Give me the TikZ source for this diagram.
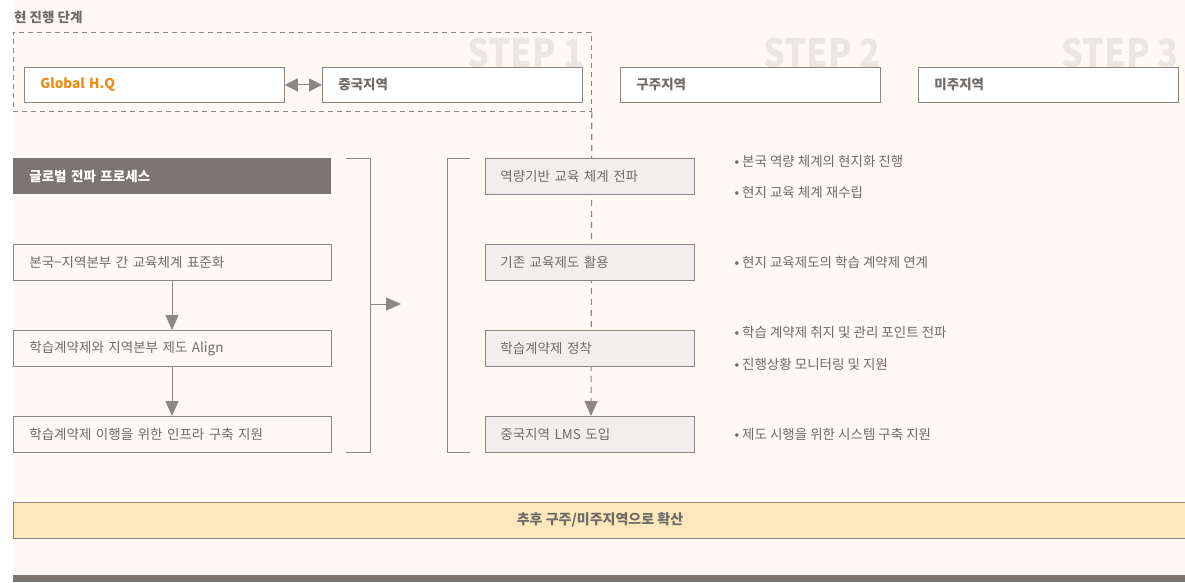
\documentclass[tikz,border=0pt]{standalone}
\usepackage{fontspec}
\setmainfont{Noto Sans CJK KR}
\usetikzlibrary{arrows.meta}
\definecolor{bgcream}{HTML}{FEF9F2}
\definecolor{linegray}{HTML}{8C8783}
\definecolor{txtgray}{HTML}{6F6B68}
\definecolor{darkbar}{HTML}{7B7571}
\definecolor{midfill}{HTML}{F1EFED}
\definecolor{bandfill}{HTML}{FDE8BC}
\definecolor{stepgray}{HTML}{EAE6E2}
\definecolor{hqorange}{HTML}{EE8A10}
\begin{document}
\begin{tikzpicture}[x=1pt,y=-1pt,
    region/.style={draw=linegray, fill=white, line width=0.8pt, minimum height=35pt,
        text width=228pt, inner xsep=16pt, align=left, anchor=north west,
        font=\fontsize{13.5}{15}\selectfont\bfseries, text=txtgray},
    procbox/.style={draw=linegray, fill=bgcream, line width=0.8pt, minimum height=36pt,
        text width=286pt, inner xsep=16pt, align=left, anchor=north west,
        font=\fontsize{13.5}{15}\selectfont, text=txtgray},
    stagebox/.style={procbox, fill=midfill, text width=179pt, inner xsep=15pt},
    bullet/.style={anchor=west, text=txtgray, font=\fontsize{13.5}{15}\selectfont},
    steplabel/.style={anchor=base east, text=stepgray, inner sep=0pt,
        font=\fontsize{39}{40}\selectfont\bfseries},
    flow/.style={draw=linegray, line width=1pt, -{Triangle[length=15pt,width=13pt]}}]
    % 배경
    \useasboundingbox (0,0) rectangle (1185,582);
    \fill[white] (0,0) rectangle (1185,582);
    \fill[bgcream] (13,0) rectangle (1185,582);

    % 현 진행 단계
    \node[anchor=west, text=txtgray, font=\fontsize{13.5}{15}\selectfont\bfseries, inner sep=0pt]
        (title) at (14,17) {현 진행 단계};
    \node[steplabel] (step1) at (585,67) {\scalebox{0.88}[1]{STEP 1}};
    \node[steplabel] (step2) at (881,67) {\scalebox{0.88}[1]{STEP 2}};
    \node[steplabel] (step3) at (1179,67) {\scalebox{0.88}[1]{STEP 3}};
    \node[draw=linegray, dash pattern=on 5pt off 4pt, line width=0.8pt, anchor=north west, inner sep=0pt,
        minimum width=578pt, minimum height=79pt] (cur) at (13,32) {};

    % 지역 박스
    \node[region, text=hqorange] (hq) at (24,67) {Global H.Q};
    \node[region] (china) at (322,67) {중국지역};
    \node[region] (europe) at (620,67) {구주지역};
    \node[region] (america) at (918,67) {미주지역};
    \draw[draw=linegray, line width=1pt, {Triangle[length=13pt,width=13pt]}-{Triangle[length=13pt,width=13pt]}]
        (hq.east) -- (china.west);

    % 글로벌 전파 프로세스
    \node[procbox, draw=none, fill=darkbar, text=white, font=\fontsize{13.5}{15}\selectfont\bfseries]
        (proc) at (13,158) {글로벌 전파 프로세스};
    \node[procbox] (std) at (13,244) {본국−지역본부 간 교육체계 표준화};
    \node[procbox] (align) at (13,330) {학습계약제와 지역본부 제도 Align};
    \node[procbox] (infra) at (13,416) {학습계약제 이행을 위한 인프라 구축 지원};
    \draw[flow] (std.south -| 172,0) -- (align.north -| 172,0);
    \draw[flow] (align.south -| 172,0) -- (infra.north -| 172,0);

    % 괄호와 화살표
    \coordinate (rb) at (370,304);
    \draw[linegray, line width=0.8pt] (346,158) -- (370,158) -- (370,452) -- (346,452);
    \coordinate (rbout) at (401,304);
    \draw[flow] (rb) -- (rbout);
    \draw[linegray, line width=0.8pt] (470,158) -- (447,158) -- (447,452) -- (470,452);

    % 단계별 진행
    \draw[linegray, line width=1.1pt, dash pattern=on 6pt off 5pt, -{Triangle[length=15pt,width=13pt]}]
        (cur.south east) -- (591,416);
    \node[stagebox] (sys) at (485,158) {역량기반 교육 체계 전파};
    \node[stagebox] (use) at (485,244) {기존 교육제도 활용};
    \node[stagebox] (settle) at (485,330) {학습계약제 정착};
    \node[stagebox] (lms) at (485,416) {중국지역 LMS 도입};

    % 세부 내용
    \node[bullet] (b1) at (731,161) {• 본국 역량 체계의 현지화 진행};
    \node[bullet] (b2) at (731,192) {• 현지 교육 체계 재수립};
    \node[bullet] (b3) at (731,262) {• 현지 교육제도의 학습 계약제 연계};
    \node[bullet] (b4) at (731,332) {• 학습 계약제 취지 및 관리 포인트 전파};
    \node[bullet] (b5) at (731,364) {• 진행상황 모니터링 및 지원};
    \node[bullet] (b6) at (731,434) {• 제도 시행을 위한 시스템 구축 지원};

    % 확산
    \fill[bandfill] (13,502) rectangle (1185,538);
    \draw[linegray, line width=0.9pt] (1185,502) -- (13,502) -- (13,538) -- (1185,538);
    \node[text=txtgray, font=\fontsize{14}{16}\selectfont\bfseries] (spread) at (600,520)
        {추후 구주/미주지역으로 확산};
    \fill[darkbar] (13,575) rectangle (1185,582);
\end{tikzpicture}
\end{document}
